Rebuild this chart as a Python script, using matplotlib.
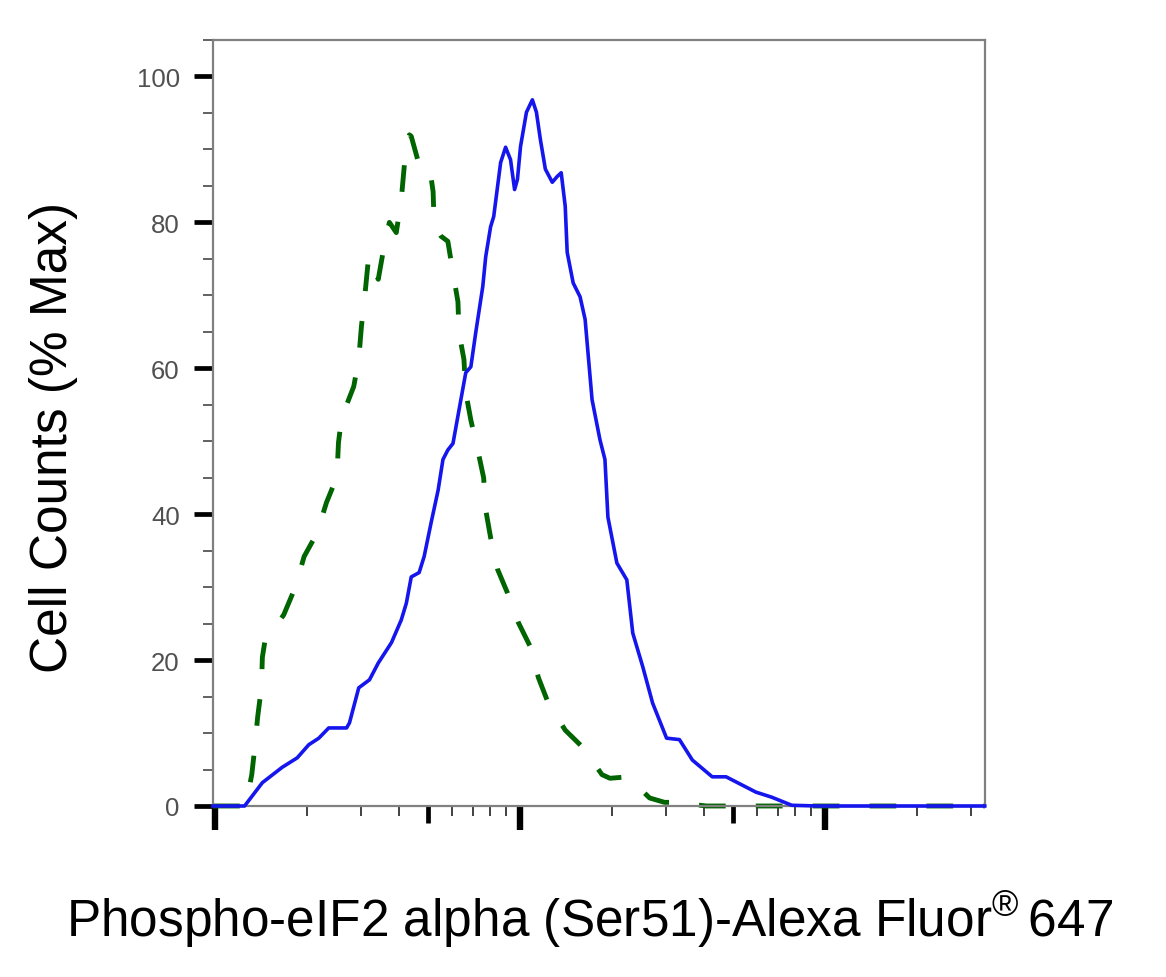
import matplotlib
matplotlib.use("Agg")
import matplotlib.pyplot as plt
from matplotlib.ticker import FixedLocator, NullFormatter

plt.rcParams['font.family'] = ['Liberation Sans', 'DejaVu Sans']
plt.rcParams['mathtext.fontset'] = 'custom'
plt.rcParams['mathtext.rm'] = 'Liberation Sans'

# stained sample (solid blue)
stained_x = [9.85, 12.5, 14.3, 16.6, 18.6, 20.3, 21.9, 23.6, 27.0, 27.6, 29.6, 32.1,
             34.3, 37.9, 40.8, 42.4, 44.0, 46.7, 48.5, 51.1, 53.9, 55.9, 58.0, 60.3,
             64.0, 66.4, 69.0, 71.6, 75.5, 77.2, 80.1, 82.0, 86.4, 89.7, 93.1, 96.0,
             98.1, 100.4, 105.0, 109.8, 113.2, 116.6, 121.1, 127.6, 132.5, 136.5,
             140.7, 142.8, 149.4, 157.4, 163.5, 172.3, 182.9, 189.9, 194.2, 207.8,
             224.0, 234.3, 252.6, 272.2, 302.4, 333.3, 367.4, 426.9, 474.1, 593.7,
             669.6, 778.0, 952.4, 3340]
stained_y = [0, 0, 3.2, 5.3, 6.6, 8.4, 9.3, 10.7, 10.7, 11.4, 16.2, 17.3,
             19.6, 22.4, 25.5, 27.8, 31.4, 32.0, 34.2, 38.8, 43.3, 47.5, 48.8, 49.7,
             55.7, 59.4, 60.2, 64.9, 71.2, 75.3, 79.4, 80.8, 88.2, 90.3, 88.6, 84.5,
             85.9, 90.4, 95.1, 96.8, 95.1, 91.4, 87.3, 85.5, 86.3, 86.8,
             82.2, 75.9, 71.7, 69.8, 66.7, 55.7, 50.2, 47.5, 39.6, 33.3,
             31.0, 23.7, 19.1, 14.1, 9.3, 9.1, 6.3, 4.0, 4.0, 1.9,
             1.2, 0.1, 0, 0]

# control (dashed green)
control_x = [9.85, 12.6, 13.2, 13.5, 13.8, 14.2, 14.3, 14.6, 15.2, 16.8, 18.3, 19.6,
             21.6, 23.2, 25.1, 25.4, 26.0, 28.5, 29.6, 30.2, 30.9, 31.9, 34.3, 35.7,
             37.3, 39.3, 40.8, 41.7, 42.4, 43.4, 44.0, 46.4, 50.4, 51.9, 52.3, 55.1,
             58.0, 60.3, 62.6, 63.1, 65.5, 66.4, 69.0, 72.7, 76.0, 77.2, 80.1, 84.5,
             91.0, 98.9, 108.2, 114.9, 123.8, 140.7, 161.0, 185.7, 197.2, 225.6,
             266.1, 297.8, 325.8, 408.0, 3340]
control_y = [0, 0, 4.3, 8.0, 12.2, 16.3, 20.4, 22.8, 23.7, 26.2, 29.9, 34.2,
             37.4, 41.6, 45.1, 49.8, 53.2, 57.5, 61.2, 65.7, 69.4, 75.3, 72.2, 76.3,
             80.0, 78.6, 83.1, 87.5, 91.1, 92.0, 91.8, 88.3, 87.9, 84.2, 79.7, 78.1,
             77.4, 73.1, 69.1, 64.9, 61.2, 56.7, 52.9, 48.8, 45.0, 40.6, 36.8, 32.4,
             29.2, 25.1, 21.8, 17.6, 14.1, 10.4, 8.0, 4.3, 3.8, 4.0,
             1.1, 0.5, 0.5, 0, 0]

y_major = [0, 20, 40, 60, 80, 100]
x_big = [10, 100, 1000]
x_mid = [50, 500]

fig = plt.figure(figsize=(11.66, 9.78), dpi=100)
ax = fig.add_axes([213/1166, 1 - 807/978, 772/1166, 766/978])

ax.plot(control_x, control_y, color='#006400', lw=3.5, linestyle=(0, (5.5, 6.2)),
        dash_capstyle='butt', clip_on=False, zorder=2)
ax.plot(stained_x, stained_y, color='#1515ee', lw=2.6, clip_on=False, zorder=3)

ax.set_xscale('log')
ax.set_xlim(9.85, 3347)
ax.set_ylim(0, 105)

for s in ax.spines.values():
    s.set_color('#808080')
    s.set_linewidth(1.6)

# y ticks
ax.yaxis.set_major_locator(FixedLocator(y_major))
ax.yaxis.set_minor_locator(FixedLocator([v for v in range(5, 106, 5) if v % 20]))
ax.tick_params(axis='y', which='major', length=14, width=3.4, color='black',
               labelsize=18.5, labelcolor='#505050', pad=10)
ax.tick_params(axis='y', which='minor', length=7.5, width=1.3, color='#555555')

# x ticks: long at decades, mid at 5x, short for the rest
minor = [m * d for d in (10, 100, 1000) for m in range(2, 10) if m != 5 and m * d < 3347]
ax.xaxis.set_major_locator(FixedLocator(x_big))
ax.xaxis.set_minor_locator(FixedLocator(minor))
ax.xaxis.set_major_formatter(NullFormatter())
ax.xaxis.set_minor_formatter(NullFormatter())
ax.tick_params(axis='x', which='major', length=17, width=4.6, color='black')
ax.tick_params(axis='x', which='minor', length=7, width=1.3, color='#333333')

sec = ax.secondary_xaxis('bottom')
sec.set_xticks(x_mid)
sec.xaxis.set_minor_locator(FixedLocator([]))
sec.xaxis.set_major_formatter(NullFormatter())
sec.tick_params(axis='x', which='major', length=12, width=3.4, color='black')
sec.spines['bottom'].set_visible(False)

ax.set_ylabel('Cell Counts (% Max)', fontsize=37)
ax.yaxis.set_label_coords(-0.175, 0.483)
ax.set_xlabel('Phospho-eIF2 alpha (Ser51)-Alexa Fluor$^{\\mathregular{®}}\\,$647', fontsize=37)
ax.xaxis.set_label_coords(0.488, -0.108)

fig.savefig('out.png', dpi=100)
